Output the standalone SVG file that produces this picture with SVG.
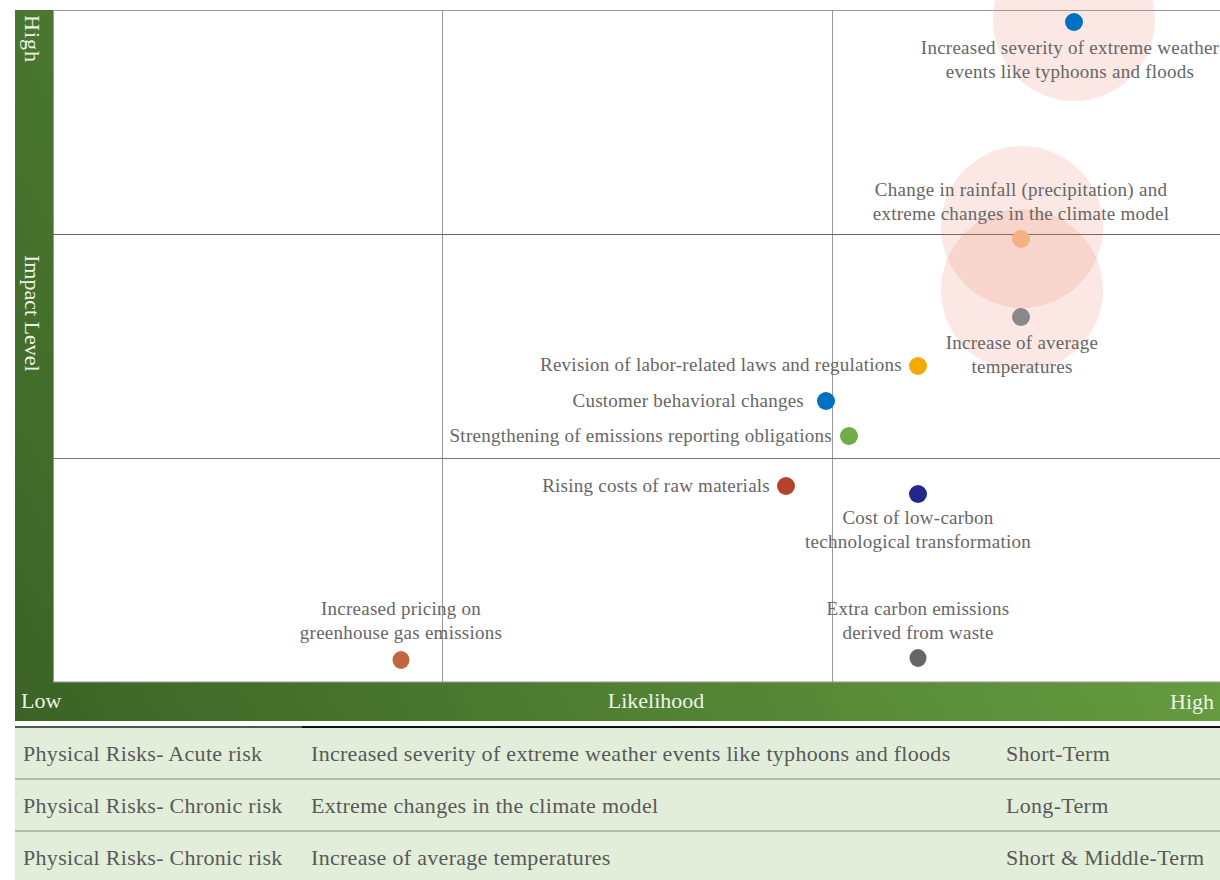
<svg xmlns="http://www.w3.org/2000/svg" width="1220" height="880" viewBox="0 0 1220 880">
<style>
.lbl{font-family:"Liberation Serif",serif;font-size:19px;letter-spacing:0.25px;fill:#666}
.ax{font-family:"Liberation Serif",serif;font-size:22px;fill:#eef3e8}
.tb{font-family:"Liberation Serif",serif;font-size:22px;letter-spacing:0.3px;fill:#595959}
.grid{stroke:#999;stroke-width:1;fill:none}
.halo{fill:#e9795f;fill-opacity:0.17}
</style>
<defs>
<linearGradient id="g" gradientUnits="userSpaceOnUse" x1="15" y1="721" x2="1220" y2="10">
<stop offset="0" stop-color="#3a6325"/>
<stop offset="1" stop-color="#74ae49"/>
</linearGradient>
</defs>
<rect x="0" y="0" width="1220" height="880" fill="#fff"/>
<g id="axes">
<rect x="15" y="10" width="38" height="711" fill="url(#g)"/>
<rect x="15" y="682" width="1205" height="39" fill="url(#g)"/>
<rect x="53" y="10" width="1168" height="672" fill="#fff"/>
<line class="grid" x1="53" y1="10.5" x2="1220" y2="10.5"/>
<line class="grid" x1="53" y1="682" x2="1220" y2="682"/>
<line class="grid" x1="53.5" y1="10" x2="53.5" y2="682"/>
<line class="grid" x1="442.5" y1="10" x2="442.5" y2="682"/>
<line class="grid" x1="832.5" y1="10" x2="832.5" y2="682"/>
<line x1="53" y1="234.5" x2="1220" y2="234.5" stroke="#666"/>
<line x1="53" y1="458.5" x2="1220" y2="458.5" stroke="#777"/>
<text class="ax" transform="translate(25,15) rotate(90)" letter-spacing="1">High</text>
<text class="ax" transform="translate(25,255) rotate(90)">Impact Level</text>
<text class="ax" x="21" y="708">Low</text>
<text class="ax" x="656" y="708" text-anchor="middle">Likelihood</text>
<text class="ax" x="1214" y="709" text-anchor="end">High</text>
</g>
<g id="halos">
<circle class="halo" cx="1074" cy="20" r="81"/>
<circle class="halo" cx="1022" cy="227" r="81"/>
<circle class="halo" cx="1022" cy="290" r="81"/>
</g>
<g id="connectors"></g>
<g id="n1">
<circle cx="1074" cy="22" r="9" fill="#0070c0"/>
<text class="lbl" x="1070" y="54" text-anchor="middle">Increased severity of extreme weather</text>
<text class="lbl" x="1070" y="78" text-anchor="middle">events like typhoons and floods</text>
</g>
<g id="n2">
<circle cx="1021" cy="239" r="9" fill="#f4b183"/>
<text class="lbl" x="1021" y="196" text-anchor="middle">Change in rainfall (precipitation) and</text>
<text class="lbl" x="1021" y="220" text-anchor="middle">extreme changes in the climate model</text>
</g>
<g id="n3">
<circle cx="1021" cy="317" r="9" fill="#898989"/>
<text class="lbl" x="1022" y="349" text-anchor="middle">Increase of average</text>
<text class="lbl" x="1022" y="373" text-anchor="middle">temperatures</text>
</g>
<g id="n4">
<circle cx="918" cy="366" r="9" fill="#f5a800"/>
<text class="lbl" x="902" y="371" text-anchor="end">Revision of labor-related laws and regulations</text>
</g>
<g id="n5">
<circle cx="826" cy="401" r="9" fill="#0070c0"/>
<text class="lbl" x="804" y="407" text-anchor="end">Customer behavioral changes</text>
</g>
<g id="n6">
<circle cx="849" cy="436" r="9" fill="#70ad47"/>
<text class="lbl" x="832" y="442" text-anchor="end">Strengthening of emissions reporting obligations</text>
</g>
<g id="n7">
<circle cx="786" cy="486" r="9" fill="#b5432a"/>
<text class="lbl" x="770" y="492" text-anchor="end">Rising costs of raw materials</text>
</g>
<g id="n8">
<circle cx="918" cy="494" r="9" fill="#1f2a8c"/>
<text class="lbl" x="918" y="524" text-anchor="middle">Cost of low-carbon</text>
<text class="lbl" x="918" y="548" text-anchor="middle">technological transformation</text>
</g>
<g id="n9">
<ellipse cx="401" cy="660" rx="8.5" ry="9" fill="#c0673f"/>
<text class="lbl" x="401" y="615" text-anchor="middle">Increased pricing on</text>
<text class="lbl" x="401" y="639" text-anchor="middle">greenhouse gas emissions</text>
</g>
<g id="n10">
<ellipse cx="918" cy="658" rx="8.5" ry="9" fill="#666"/>
<text class="lbl" x="918" y="615" text-anchor="middle">Extra carbon emissions</text>
<text class="lbl" x="918" y="639" text-anchor="middle">derived from waste</text>
</g>
<g id="table">
<rect x="15" y="727" width="1205" height="153" fill="#e2eed9"/>
<line x1="15" y1="727" x2="302" y2="727" stroke="#555" stroke-width="2"/>
<line x1="302" y1="727" x2="1220" y2="727" stroke="#111" stroke-width="2"/>
<line x1="15" y1="779" x2="1220" y2="779" stroke="#888"/>
<line x1="15" y1="831" x2="1220" y2="831" stroke="#888"/>
<text class="tb" x="23" y="761">Physical Risks- Acute risk</text>
<text class="tb" x="311" y="761">Increased severity of extreme weather events like typhoons and floods</text>
<text class="tb" x="1006" y="761">Short-Term</text>
<text class="tb" x="23" y="813">Physical Risks- Chronic risk</text>
<text class="tb" x="311" y="813">Extreme changes in the climate model</text>
<text class="tb" x="1006" y="813">Long-Term</text>
<text class="tb" x="23" y="865">Physical Risks- Chronic risk</text>
<text class="tb" x="311" y="865">Increase of average temperatures</text>
<text class="tb" x="1006" y="865">Short &amp; Middle-Term</text>
</g>
</svg>
